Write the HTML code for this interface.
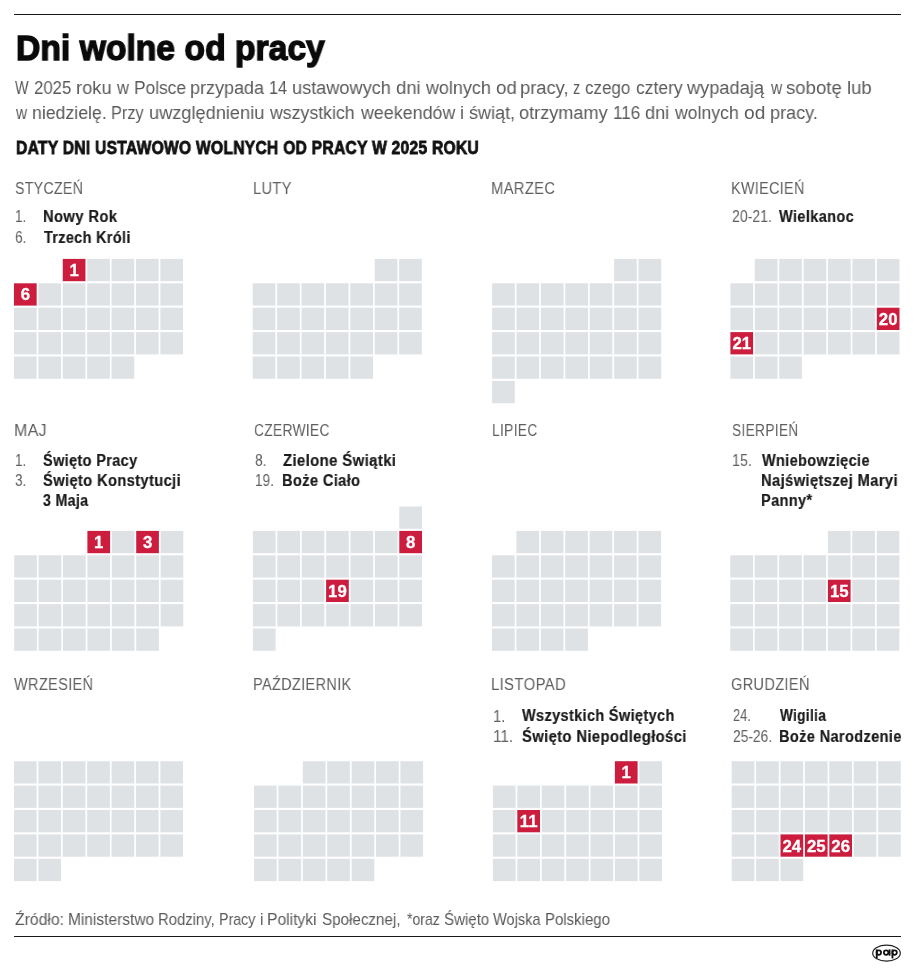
<!DOCTYPE html>
<html><head><meta charset="utf-8"><style>
html,body{margin:0;padding:0;background:#fff;}
body{width:915px;height:972px;position:relative;overflow:hidden;font-family:"Liberation Sans",sans-serif;}
.t{position:absolute;line-height:0;white-space:nowrap;transform-origin:0 0;will-change:transform;}
.n{font-family:"Liberation Sans",sans-serif;font-weight:700;font-size:16.8px;fill:#fff;stroke:#fff;stroke-width:0.3px;text-anchor:middle;}
.rule{position:absolute;left:14px;width:887px;background:#1a1a1a;}
</style></head><body>
<div class="rule" style="top:13.5px;height:1.8px"></div>
<div class="rule" style="top:935.5px;height:1.6px"></div>
<svg width="915" height="972" style="position:absolute;left:0;top:0;will-change:transform">
<rect x="62.76" y="258.90" width="22.7" height="22.3" fill="#cc1d3f"/>
<text x="74.11" y="276.05" class="n">1</text>
<rect x="87.16" y="258.90" width="22.7" height="22.3" fill="#dfe2e5"/>
<rect x="111.56" y="258.90" width="22.7" height="22.3" fill="#dfe2e5"/>
<rect x="135.96" y="258.90" width="22.7" height="22.3" fill="#dfe2e5"/>
<rect x="160.36" y="258.90" width="22.7" height="22.3" fill="#dfe2e5"/>
<rect x="13.96" y="283.30" width="22.7" height="22.3" fill="#cc1d3f"/>
<text x="25.31" y="300.45" class="n">6</text>
<rect x="38.36" y="283.30" width="22.7" height="22.3" fill="#dfe2e5"/>
<rect x="62.76" y="283.30" width="22.7" height="22.3" fill="#dfe2e5"/>
<rect x="87.16" y="283.30" width="22.7" height="22.3" fill="#dfe2e5"/>
<rect x="111.56" y="283.30" width="22.7" height="22.3" fill="#dfe2e5"/>
<rect x="135.96" y="283.30" width="22.7" height="22.3" fill="#dfe2e5"/>
<rect x="160.36" y="283.30" width="22.7" height="22.3" fill="#dfe2e5"/>
<rect x="13.96" y="307.70" width="22.7" height="22.3" fill="#dfe2e5"/>
<rect x="38.36" y="307.70" width="22.7" height="22.3" fill="#dfe2e5"/>
<rect x="62.76" y="307.70" width="22.7" height="22.3" fill="#dfe2e5"/>
<rect x="87.16" y="307.70" width="22.7" height="22.3" fill="#dfe2e5"/>
<rect x="111.56" y="307.70" width="22.7" height="22.3" fill="#dfe2e5"/>
<rect x="135.96" y="307.70" width="22.7" height="22.3" fill="#dfe2e5"/>
<rect x="160.36" y="307.70" width="22.7" height="22.3" fill="#dfe2e5"/>
<rect x="13.96" y="332.10" width="22.7" height="22.3" fill="#dfe2e5"/>
<rect x="38.36" y="332.10" width="22.7" height="22.3" fill="#dfe2e5"/>
<rect x="62.76" y="332.10" width="22.7" height="22.3" fill="#dfe2e5"/>
<rect x="87.16" y="332.10" width="22.7" height="22.3" fill="#dfe2e5"/>
<rect x="111.56" y="332.10" width="22.7" height="22.3" fill="#dfe2e5"/>
<rect x="135.96" y="332.10" width="22.7" height="22.3" fill="#dfe2e5"/>
<rect x="160.36" y="332.10" width="22.7" height="22.3" fill="#dfe2e5"/>
<rect x="13.96" y="356.50" width="22.7" height="22.3" fill="#dfe2e5"/>
<rect x="38.36" y="356.50" width="22.7" height="22.3" fill="#dfe2e5"/>
<rect x="62.76" y="356.50" width="22.7" height="22.3" fill="#dfe2e5"/>
<rect x="87.16" y="356.50" width="22.7" height="22.3" fill="#dfe2e5"/>
<rect x="111.56" y="356.50" width="22.7" height="22.3" fill="#dfe2e5"/>
<rect x="374.70" y="258.90" width="22.7" height="22.3" fill="#dfe2e5"/>
<rect x="399.10" y="258.90" width="22.7" height="22.3" fill="#dfe2e5"/>
<rect x="252.70" y="283.30" width="22.7" height="22.3" fill="#dfe2e5"/>
<rect x="277.10" y="283.30" width="22.7" height="22.3" fill="#dfe2e5"/>
<rect x="301.50" y="283.30" width="22.7" height="22.3" fill="#dfe2e5"/>
<rect x="325.90" y="283.30" width="22.7" height="22.3" fill="#dfe2e5"/>
<rect x="350.30" y="283.30" width="22.7" height="22.3" fill="#dfe2e5"/>
<rect x="374.70" y="283.30" width="22.7" height="22.3" fill="#dfe2e5"/>
<rect x="399.10" y="283.30" width="22.7" height="22.3" fill="#dfe2e5"/>
<rect x="252.70" y="307.70" width="22.7" height="22.3" fill="#dfe2e5"/>
<rect x="277.10" y="307.70" width="22.7" height="22.3" fill="#dfe2e5"/>
<rect x="301.50" y="307.70" width="22.7" height="22.3" fill="#dfe2e5"/>
<rect x="325.90" y="307.70" width="22.7" height="22.3" fill="#dfe2e5"/>
<rect x="350.30" y="307.70" width="22.7" height="22.3" fill="#dfe2e5"/>
<rect x="374.70" y="307.70" width="22.7" height="22.3" fill="#dfe2e5"/>
<rect x="399.10" y="307.70" width="22.7" height="22.3" fill="#dfe2e5"/>
<rect x="252.70" y="332.10" width="22.7" height="22.3" fill="#dfe2e5"/>
<rect x="277.10" y="332.10" width="22.7" height="22.3" fill="#dfe2e5"/>
<rect x="301.50" y="332.10" width="22.7" height="22.3" fill="#dfe2e5"/>
<rect x="325.90" y="332.10" width="22.7" height="22.3" fill="#dfe2e5"/>
<rect x="350.30" y="332.10" width="22.7" height="22.3" fill="#dfe2e5"/>
<rect x="374.70" y="332.10" width="22.7" height="22.3" fill="#dfe2e5"/>
<rect x="399.10" y="332.10" width="22.7" height="22.3" fill="#dfe2e5"/>
<rect x="252.70" y="356.50" width="22.7" height="22.3" fill="#dfe2e5"/>
<rect x="277.10" y="356.50" width="22.7" height="22.3" fill="#dfe2e5"/>
<rect x="301.50" y="356.50" width="22.7" height="22.3" fill="#dfe2e5"/>
<rect x="325.90" y="356.50" width="22.7" height="22.3" fill="#dfe2e5"/>
<rect x="350.30" y="356.50" width="22.7" height="22.3" fill="#dfe2e5"/>
<rect x="614.10" y="258.90" width="22.7" height="22.3" fill="#dfe2e5"/>
<rect x="638.50" y="258.90" width="22.7" height="22.3" fill="#dfe2e5"/>
<rect x="492.10" y="283.30" width="22.7" height="22.3" fill="#dfe2e5"/>
<rect x="516.50" y="283.30" width="22.7" height="22.3" fill="#dfe2e5"/>
<rect x="540.90" y="283.30" width="22.7" height="22.3" fill="#dfe2e5"/>
<rect x="565.30" y="283.30" width="22.7" height="22.3" fill="#dfe2e5"/>
<rect x="589.70" y="283.30" width="22.7" height="22.3" fill="#dfe2e5"/>
<rect x="614.10" y="283.30" width="22.7" height="22.3" fill="#dfe2e5"/>
<rect x="638.50" y="283.30" width="22.7" height="22.3" fill="#dfe2e5"/>
<rect x="492.10" y="307.70" width="22.7" height="22.3" fill="#dfe2e5"/>
<rect x="516.50" y="307.70" width="22.7" height="22.3" fill="#dfe2e5"/>
<rect x="540.90" y="307.70" width="22.7" height="22.3" fill="#dfe2e5"/>
<rect x="565.30" y="307.70" width="22.7" height="22.3" fill="#dfe2e5"/>
<rect x="589.70" y="307.70" width="22.7" height="22.3" fill="#dfe2e5"/>
<rect x="614.10" y="307.70" width="22.7" height="22.3" fill="#dfe2e5"/>
<rect x="638.50" y="307.70" width="22.7" height="22.3" fill="#dfe2e5"/>
<rect x="492.10" y="332.10" width="22.7" height="22.3" fill="#dfe2e5"/>
<rect x="516.50" y="332.10" width="22.7" height="22.3" fill="#dfe2e5"/>
<rect x="540.90" y="332.10" width="22.7" height="22.3" fill="#dfe2e5"/>
<rect x="565.30" y="332.10" width="22.7" height="22.3" fill="#dfe2e5"/>
<rect x="589.70" y="332.10" width="22.7" height="22.3" fill="#dfe2e5"/>
<rect x="614.10" y="332.10" width="22.7" height="22.3" fill="#dfe2e5"/>
<rect x="638.50" y="332.10" width="22.7" height="22.3" fill="#dfe2e5"/>
<rect x="492.10" y="356.50" width="22.7" height="22.3" fill="#dfe2e5"/>
<rect x="516.50" y="356.50" width="22.7" height="22.3" fill="#dfe2e5"/>
<rect x="540.90" y="356.50" width="22.7" height="22.3" fill="#dfe2e5"/>
<rect x="565.30" y="356.50" width="22.7" height="22.3" fill="#dfe2e5"/>
<rect x="589.70" y="356.50" width="22.7" height="22.3" fill="#dfe2e5"/>
<rect x="614.10" y="356.50" width="22.7" height="22.3" fill="#dfe2e5"/>
<rect x="638.50" y="356.50" width="22.7" height="22.3" fill="#dfe2e5"/>
<rect x="492.10" y="380.90" width="22.7" height="22.3" fill="#dfe2e5"/>
<rect x="754.80" y="258.90" width="22.7" height="22.3" fill="#dfe2e5"/>
<rect x="779.20" y="258.90" width="22.7" height="22.3" fill="#dfe2e5"/>
<rect x="803.60" y="258.90" width="22.7" height="22.3" fill="#dfe2e5"/>
<rect x="828.00" y="258.90" width="22.7" height="22.3" fill="#dfe2e5"/>
<rect x="852.40" y="258.90" width="22.7" height="22.3" fill="#dfe2e5"/>
<rect x="876.80" y="258.90" width="22.7" height="22.3" fill="#dfe2e5"/>
<rect x="730.40" y="283.30" width="22.7" height="22.3" fill="#dfe2e5"/>
<rect x="754.80" y="283.30" width="22.7" height="22.3" fill="#dfe2e5"/>
<rect x="779.20" y="283.30" width="22.7" height="22.3" fill="#dfe2e5"/>
<rect x="803.60" y="283.30" width="22.7" height="22.3" fill="#dfe2e5"/>
<rect x="828.00" y="283.30" width="22.7" height="22.3" fill="#dfe2e5"/>
<rect x="852.40" y="283.30" width="22.7" height="22.3" fill="#dfe2e5"/>
<rect x="876.80" y="283.30" width="22.7" height="22.3" fill="#dfe2e5"/>
<rect x="730.40" y="307.70" width="22.7" height="22.3" fill="#dfe2e5"/>
<rect x="754.80" y="307.70" width="22.7" height="22.3" fill="#dfe2e5"/>
<rect x="779.20" y="307.70" width="22.7" height="22.3" fill="#dfe2e5"/>
<rect x="803.60" y="307.70" width="22.7" height="22.3" fill="#dfe2e5"/>
<rect x="828.00" y="307.70" width="22.7" height="22.3" fill="#dfe2e5"/>
<rect x="852.40" y="307.70" width="22.7" height="22.3" fill="#dfe2e5"/>
<rect x="876.80" y="307.70" width="22.7" height="22.3" fill="#cc1d3f"/>
<text x="888.15" y="324.85" class="n">20</text>
<rect x="730.40" y="332.10" width="22.7" height="22.3" fill="#cc1d3f"/>
<text x="741.75" y="349.25" class="n">21</text>
<rect x="754.80" y="332.10" width="22.7" height="22.3" fill="#dfe2e5"/>
<rect x="779.20" y="332.10" width="22.7" height="22.3" fill="#dfe2e5"/>
<rect x="803.60" y="332.10" width="22.7" height="22.3" fill="#dfe2e5"/>
<rect x="828.00" y="332.10" width="22.7" height="22.3" fill="#dfe2e5"/>
<rect x="852.40" y="332.10" width="22.7" height="22.3" fill="#dfe2e5"/>
<rect x="876.80" y="332.10" width="22.7" height="22.3" fill="#dfe2e5"/>
<rect x="730.40" y="356.50" width="22.7" height="22.3" fill="#dfe2e5"/>
<rect x="754.80" y="356.50" width="22.7" height="22.3" fill="#dfe2e5"/>
<rect x="779.20" y="356.50" width="22.7" height="22.3" fill="#dfe2e5"/>
<rect x="87.40" y="530.90" width="22.7" height="22.3" fill="#cc1d3f"/>
<text x="98.75" y="548.05" class="n">1</text>
<rect x="111.80" y="530.90" width="22.7" height="22.3" fill="#dfe2e5"/>
<rect x="136.20" y="530.90" width="22.7" height="22.3" fill="#cc1d3f"/>
<text x="147.55" y="548.05" class="n">3</text>
<rect x="160.60" y="530.90" width="22.7" height="22.3" fill="#dfe2e5"/>
<rect x="14.20" y="555.30" width="22.7" height="22.3" fill="#dfe2e5"/>
<rect x="38.60" y="555.30" width="22.7" height="22.3" fill="#dfe2e5"/>
<rect x="63.00" y="555.30" width="22.7" height="22.3" fill="#dfe2e5"/>
<rect x="87.40" y="555.30" width="22.7" height="22.3" fill="#dfe2e5"/>
<rect x="111.80" y="555.30" width="22.7" height="22.3" fill="#dfe2e5"/>
<rect x="136.20" y="555.30" width="22.7" height="22.3" fill="#dfe2e5"/>
<rect x="160.60" y="555.30" width="22.7" height="22.3" fill="#dfe2e5"/>
<rect x="14.20" y="579.70" width="22.7" height="22.3" fill="#dfe2e5"/>
<rect x="38.60" y="579.70" width="22.7" height="22.3" fill="#dfe2e5"/>
<rect x="63.00" y="579.70" width="22.7" height="22.3" fill="#dfe2e5"/>
<rect x="87.40" y="579.70" width="22.7" height="22.3" fill="#dfe2e5"/>
<rect x="111.80" y="579.70" width="22.7" height="22.3" fill="#dfe2e5"/>
<rect x="136.20" y="579.70" width="22.7" height="22.3" fill="#dfe2e5"/>
<rect x="160.60" y="579.70" width="22.7" height="22.3" fill="#dfe2e5"/>
<rect x="14.20" y="604.10" width="22.7" height="22.3" fill="#dfe2e5"/>
<rect x="38.60" y="604.10" width="22.7" height="22.3" fill="#dfe2e5"/>
<rect x="63.00" y="604.10" width="22.7" height="22.3" fill="#dfe2e5"/>
<rect x="87.40" y="604.10" width="22.7" height="22.3" fill="#dfe2e5"/>
<rect x="111.80" y="604.10" width="22.7" height="22.3" fill="#dfe2e5"/>
<rect x="136.20" y="604.10" width="22.7" height="22.3" fill="#dfe2e5"/>
<rect x="160.60" y="604.10" width="22.7" height="22.3" fill="#dfe2e5"/>
<rect x="14.20" y="628.50" width="22.7" height="22.3" fill="#dfe2e5"/>
<rect x="38.60" y="628.50" width="22.7" height="22.3" fill="#dfe2e5"/>
<rect x="63.00" y="628.50" width="22.7" height="22.3" fill="#dfe2e5"/>
<rect x="87.40" y="628.50" width="22.7" height="22.3" fill="#dfe2e5"/>
<rect x="111.80" y="628.50" width="22.7" height="22.3" fill="#dfe2e5"/>
<rect x="136.20" y="628.50" width="22.7" height="22.3" fill="#dfe2e5"/>
<rect x="399.30" y="506.50" width="22.7" height="22.3" fill="#dfe2e5"/>
<rect x="252.90" y="530.90" width="22.7" height="22.3" fill="#dfe2e5"/>
<rect x="277.30" y="530.90" width="22.7" height="22.3" fill="#dfe2e5"/>
<rect x="301.70" y="530.90" width="22.7" height="22.3" fill="#dfe2e5"/>
<rect x="326.10" y="530.90" width="22.7" height="22.3" fill="#dfe2e5"/>
<rect x="350.50" y="530.90" width="22.7" height="22.3" fill="#dfe2e5"/>
<rect x="374.90" y="530.90" width="22.7" height="22.3" fill="#dfe2e5"/>
<rect x="399.30" y="530.90" width="22.7" height="22.3" fill="#cc1d3f"/>
<text x="410.65" y="548.05" class="n">8</text>
<rect x="252.90" y="555.30" width="22.7" height="22.3" fill="#dfe2e5"/>
<rect x="277.30" y="555.30" width="22.7" height="22.3" fill="#dfe2e5"/>
<rect x="301.70" y="555.30" width="22.7" height="22.3" fill="#dfe2e5"/>
<rect x="326.10" y="555.30" width="22.7" height="22.3" fill="#dfe2e5"/>
<rect x="350.50" y="555.30" width="22.7" height="22.3" fill="#dfe2e5"/>
<rect x="374.90" y="555.30" width="22.7" height="22.3" fill="#dfe2e5"/>
<rect x="399.30" y="555.30" width="22.7" height="22.3" fill="#dfe2e5"/>
<rect x="252.90" y="579.70" width="22.7" height="22.3" fill="#dfe2e5"/>
<rect x="277.30" y="579.70" width="22.7" height="22.3" fill="#dfe2e5"/>
<rect x="301.70" y="579.70" width="22.7" height="22.3" fill="#dfe2e5"/>
<rect x="326.10" y="579.70" width="22.7" height="22.3" fill="#cc1d3f"/>
<text x="337.45" y="596.85" class="n">19</text>
<rect x="350.50" y="579.70" width="22.7" height="22.3" fill="#dfe2e5"/>
<rect x="374.90" y="579.70" width="22.7" height="22.3" fill="#dfe2e5"/>
<rect x="399.30" y="579.70" width="22.7" height="22.3" fill="#dfe2e5"/>
<rect x="252.90" y="604.10" width="22.7" height="22.3" fill="#dfe2e5"/>
<rect x="277.30" y="604.10" width="22.7" height="22.3" fill="#dfe2e5"/>
<rect x="301.70" y="604.10" width="22.7" height="22.3" fill="#dfe2e5"/>
<rect x="326.10" y="604.10" width="22.7" height="22.3" fill="#dfe2e5"/>
<rect x="350.50" y="604.10" width="22.7" height="22.3" fill="#dfe2e5"/>
<rect x="374.90" y="604.10" width="22.7" height="22.3" fill="#dfe2e5"/>
<rect x="399.30" y="604.10" width="22.7" height="22.3" fill="#dfe2e5"/>
<rect x="252.90" y="628.50" width="22.7" height="22.3" fill="#dfe2e5"/>
<rect x="516.40" y="530.90" width="22.7" height="22.3" fill="#dfe2e5"/>
<rect x="540.80" y="530.90" width="22.7" height="22.3" fill="#dfe2e5"/>
<rect x="565.20" y="530.90" width="22.7" height="22.3" fill="#dfe2e5"/>
<rect x="589.60" y="530.90" width="22.7" height="22.3" fill="#dfe2e5"/>
<rect x="614.00" y="530.90" width="22.7" height="22.3" fill="#dfe2e5"/>
<rect x="638.40" y="530.90" width="22.7" height="22.3" fill="#dfe2e5"/>
<rect x="492.00" y="555.30" width="22.7" height="22.3" fill="#dfe2e5"/>
<rect x="516.40" y="555.30" width="22.7" height="22.3" fill="#dfe2e5"/>
<rect x="540.80" y="555.30" width="22.7" height="22.3" fill="#dfe2e5"/>
<rect x="565.20" y="555.30" width="22.7" height="22.3" fill="#dfe2e5"/>
<rect x="589.60" y="555.30" width="22.7" height="22.3" fill="#dfe2e5"/>
<rect x="614.00" y="555.30" width="22.7" height="22.3" fill="#dfe2e5"/>
<rect x="638.40" y="555.30" width="22.7" height="22.3" fill="#dfe2e5"/>
<rect x="492.00" y="579.70" width="22.7" height="22.3" fill="#dfe2e5"/>
<rect x="516.40" y="579.70" width="22.7" height="22.3" fill="#dfe2e5"/>
<rect x="540.80" y="579.70" width="22.7" height="22.3" fill="#dfe2e5"/>
<rect x="565.20" y="579.70" width="22.7" height="22.3" fill="#dfe2e5"/>
<rect x="589.60" y="579.70" width="22.7" height="22.3" fill="#dfe2e5"/>
<rect x="614.00" y="579.70" width="22.7" height="22.3" fill="#dfe2e5"/>
<rect x="638.40" y="579.70" width="22.7" height="22.3" fill="#dfe2e5"/>
<rect x="492.00" y="604.10" width="22.7" height="22.3" fill="#dfe2e5"/>
<rect x="516.40" y="604.10" width="22.7" height="22.3" fill="#dfe2e5"/>
<rect x="540.80" y="604.10" width="22.7" height="22.3" fill="#dfe2e5"/>
<rect x="565.20" y="604.10" width="22.7" height="22.3" fill="#dfe2e5"/>
<rect x="589.60" y="604.10" width="22.7" height="22.3" fill="#dfe2e5"/>
<rect x="614.00" y="604.10" width="22.7" height="22.3" fill="#dfe2e5"/>
<rect x="638.40" y="604.10" width="22.7" height="22.3" fill="#dfe2e5"/>
<rect x="492.00" y="628.50" width="22.7" height="22.3" fill="#dfe2e5"/>
<rect x="516.40" y="628.50" width="22.7" height="22.3" fill="#dfe2e5"/>
<rect x="540.80" y="628.50" width="22.7" height="22.3" fill="#dfe2e5"/>
<rect x="565.20" y="628.50" width="22.7" height="22.3" fill="#dfe2e5"/>
<rect x="827.90" y="530.90" width="22.7" height="22.3" fill="#dfe2e5"/>
<rect x="852.30" y="530.90" width="22.7" height="22.3" fill="#dfe2e5"/>
<rect x="876.70" y="530.90" width="22.7" height="22.3" fill="#dfe2e5"/>
<rect x="730.30" y="555.30" width="22.7" height="22.3" fill="#dfe2e5"/>
<rect x="754.70" y="555.30" width="22.7" height="22.3" fill="#dfe2e5"/>
<rect x="779.10" y="555.30" width="22.7" height="22.3" fill="#dfe2e5"/>
<rect x="803.50" y="555.30" width="22.7" height="22.3" fill="#dfe2e5"/>
<rect x="827.90" y="555.30" width="22.7" height="22.3" fill="#dfe2e5"/>
<rect x="852.30" y="555.30" width="22.7" height="22.3" fill="#dfe2e5"/>
<rect x="876.70" y="555.30" width="22.7" height="22.3" fill="#dfe2e5"/>
<rect x="730.30" y="579.70" width="22.7" height="22.3" fill="#dfe2e5"/>
<rect x="754.70" y="579.70" width="22.7" height="22.3" fill="#dfe2e5"/>
<rect x="779.10" y="579.70" width="22.7" height="22.3" fill="#dfe2e5"/>
<rect x="803.50" y="579.70" width="22.7" height="22.3" fill="#dfe2e5"/>
<rect x="827.90" y="579.70" width="22.7" height="22.3" fill="#cc1d3f"/>
<text x="839.25" y="596.85" class="n">15</text>
<rect x="852.30" y="579.70" width="22.7" height="22.3" fill="#dfe2e5"/>
<rect x="876.70" y="579.70" width="22.7" height="22.3" fill="#dfe2e5"/>
<rect x="730.30" y="604.10" width="22.7" height="22.3" fill="#dfe2e5"/>
<rect x="754.70" y="604.10" width="22.7" height="22.3" fill="#dfe2e5"/>
<rect x="779.10" y="604.10" width="22.7" height="22.3" fill="#dfe2e5"/>
<rect x="803.50" y="604.10" width="22.7" height="22.3" fill="#dfe2e5"/>
<rect x="827.90" y="604.10" width="22.7" height="22.3" fill="#dfe2e5"/>
<rect x="852.30" y="604.10" width="22.7" height="22.3" fill="#dfe2e5"/>
<rect x="876.70" y="604.10" width="22.7" height="22.3" fill="#dfe2e5"/>
<rect x="730.30" y="628.50" width="22.7" height="22.3" fill="#dfe2e5"/>
<rect x="754.70" y="628.50" width="22.7" height="22.3" fill="#dfe2e5"/>
<rect x="779.10" y="628.50" width="22.7" height="22.3" fill="#dfe2e5"/>
<rect x="803.50" y="628.50" width="22.7" height="22.3" fill="#dfe2e5"/>
<rect x="827.90" y="628.50" width="22.7" height="22.3" fill="#dfe2e5"/>
<rect x="852.30" y="628.50" width="22.7" height="22.3" fill="#dfe2e5"/>
<rect x="876.70" y="628.50" width="22.7" height="22.3" fill="#dfe2e5"/>
<rect x="13.96" y="761.20" width="22.7" height="22.3" fill="#dfe2e5"/>
<rect x="38.36" y="761.20" width="22.7" height="22.3" fill="#dfe2e5"/>
<rect x="62.76" y="761.20" width="22.7" height="22.3" fill="#dfe2e5"/>
<rect x="87.16" y="761.20" width="22.7" height="22.3" fill="#dfe2e5"/>
<rect x="111.56" y="761.20" width="22.7" height="22.3" fill="#dfe2e5"/>
<rect x="135.96" y="761.20" width="22.7" height="22.3" fill="#dfe2e5"/>
<rect x="160.36" y="761.20" width="22.7" height="22.3" fill="#dfe2e5"/>
<rect x="13.96" y="785.60" width="22.7" height="22.3" fill="#dfe2e5"/>
<rect x="38.36" y="785.60" width="22.7" height="22.3" fill="#dfe2e5"/>
<rect x="62.76" y="785.60" width="22.7" height="22.3" fill="#dfe2e5"/>
<rect x="87.16" y="785.60" width="22.7" height="22.3" fill="#dfe2e5"/>
<rect x="111.56" y="785.60" width="22.7" height="22.3" fill="#dfe2e5"/>
<rect x="135.96" y="785.60" width="22.7" height="22.3" fill="#dfe2e5"/>
<rect x="160.36" y="785.60" width="22.7" height="22.3" fill="#dfe2e5"/>
<rect x="13.96" y="810.00" width="22.7" height="22.3" fill="#dfe2e5"/>
<rect x="38.36" y="810.00" width="22.7" height="22.3" fill="#dfe2e5"/>
<rect x="62.76" y="810.00" width="22.7" height="22.3" fill="#dfe2e5"/>
<rect x="87.16" y="810.00" width="22.7" height="22.3" fill="#dfe2e5"/>
<rect x="111.56" y="810.00" width="22.7" height="22.3" fill="#dfe2e5"/>
<rect x="135.96" y="810.00" width="22.7" height="22.3" fill="#dfe2e5"/>
<rect x="160.36" y="810.00" width="22.7" height="22.3" fill="#dfe2e5"/>
<rect x="13.96" y="834.40" width="22.7" height="22.3" fill="#dfe2e5"/>
<rect x="38.36" y="834.40" width="22.7" height="22.3" fill="#dfe2e5"/>
<rect x="62.76" y="834.40" width="22.7" height="22.3" fill="#dfe2e5"/>
<rect x="87.16" y="834.40" width="22.7" height="22.3" fill="#dfe2e5"/>
<rect x="111.56" y="834.40" width="22.7" height="22.3" fill="#dfe2e5"/>
<rect x="135.96" y="834.40" width="22.7" height="22.3" fill="#dfe2e5"/>
<rect x="160.36" y="834.40" width="22.7" height="22.3" fill="#dfe2e5"/>
<rect x="13.96" y="858.80" width="22.7" height="22.3" fill="#dfe2e5"/>
<rect x="38.36" y="858.80" width="22.7" height="22.3" fill="#dfe2e5"/>
<rect x="302.80" y="761.20" width="22.7" height="22.3" fill="#dfe2e5"/>
<rect x="327.20" y="761.20" width="22.7" height="22.3" fill="#dfe2e5"/>
<rect x="351.60" y="761.20" width="22.7" height="22.3" fill="#dfe2e5"/>
<rect x="376.00" y="761.20" width="22.7" height="22.3" fill="#dfe2e5"/>
<rect x="400.40" y="761.20" width="22.7" height="22.3" fill="#dfe2e5"/>
<rect x="254.00" y="785.60" width="22.7" height="22.3" fill="#dfe2e5"/>
<rect x="278.40" y="785.60" width="22.7" height="22.3" fill="#dfe2e5"/>
<rect x="302.80" y="785.60" width="22.7" height="22.3" fill="#dfe2e5"/>
<rect x="327.20" y="785.60" width="22.7" height="22.3" fill="#dfe2e5"/>
<rect x="351.60" y="785.60" width="22.7" height="22.3" fill="#dfe2e5"/>
<rect x="376.00" y="785.60" width="22.7" height="22.3" fill="#dfe2e5"/>
<rect x="400.40" y="785.60" width="22.7" height="22.3" fill="#dfe2e5"/>
<rect x="254.00" y="810.00" width="22.7" height="22.3" fill="#dfe2e5"/>
<rect x="278.40" y="810.00" width="22.7" height="22.3" fill="#dfe2e5"/>
<rect x="302.80" y="810.00" width="22.7" height="22.3" fill="#dfe2e5"/>
<rect x="327.20" y="810.00" width="22.7" height="22.3" fill="#dfe2e5"/>
<rect x="351.60" y="810.00" width="22.7" height="22.3" fill="#dfe2e5"/>
<rect x="376.00" y="810.00" width="22.7" height="22.3" fill="#dfe2e5"/>
<rect x="400.40" y="810.00" width="22.7" height="22.3" fill="#dfe2e5"/>
<rect x="254.00" y="834.40" width="22.7" height="22.3" fill="#dfe2e5"/>
<rect x="278.40" y="834.40" width="22.7" height="22.3" fill="#dfe2e5"/>
<rect x="302.80" y="834.40" width="22.7" height="22.3" fill="#dfe2e5"/>
<rect x="327.20" y="834.40" width="22.7" height="22.3" fill="#dfe2e5"/>
<rect x="351.60" y="834.40" width="22.7" height="22.3" fill="#dfe2e5"/>
<rect x="376.00" y="834.40" width="22.7" height="22.3" fill="#dfe2e5"/>
<rect x="400.40" y="834.40" width="22.7" height="22.3" fill="#dfe2e5"/>
<rect x="254.00" y="858.80" width="22.7" height="22.3" fill="#dfe2e5"/>
<rect x="278.40" y="858.80" width="22.7" height="22.3" fill="#dfe2e5"/>
<rect x="302.80" y="858.80" width="22.7" height="22.3" fill="#dfe2e5"/>
<rect x="327.20" y="858.80" width="22.7" height="22.3" fill="#dfe2e5"/>
<rect x="351.60" y="858.80" width="22.7" height="22.3" fill="#dfe2e5"/>
<rect x="614.90" y="761.20" width="22.7" height="22.3" fill="#cc1d3f"/>
<text x="626.25" y="778.35" class="n">1</text>
<rect x="639.30" y="761.20" width="22.7" height="22.3" fill="#dfe2e5"/>
<rect x="492.90" y="785.60" width="22.7" height="22.3" fill="#dfe2e5"/>
<rect x="517.30" y="785.60" width="22.7" height="22.3" fill="#dfe2e5"/>
<rect x="541.70" y="785.60" width="22.7" height="22.3" fill="#dfe2e5"/>
<rect x="566.10" y="785.60" width="22.7" height="22.3" fill="#dfe2e5"/>
<rect x="590.50" y="785.60" width="22.7" height="22.3" fill="#dfe2e5"/>
<rect x="614.90" y="785.60" width="22.7" height="22.3" fill="#dfe2e5"/>
<rect x="639.30" y="785.60" width="22.7" height="22.3" fill="#dfe2e5"/>
<rect x="492.90" y="810.00" width="22.7" height="22.3" fill="#dfe2e5"/>
<rect x="517.30" y="810.00" width="22.7" height="22.3" fill="#cc1d3f"/>
<text x="528.65" y="827.15" class="n">11</text>
<rect x="541.70" y="810.00" width="22.7" height="22.3" fill="#dfe2e5"/>
<rect x="566.10" y="810.00" width="22.7" height="22.3" fill="#dfe2e5"/>
<rect x="590.50" y="810.00" width="22.7" height="22.3" fill="#dfe2e5"/>
<rect x="614.90" y="810.00" width="22.7" height="22.3" fill="#dfe2e5"/>
<rect x="639.30" y="810.00" width="22.7" height="22.3" fill="#dfe2e5"/>
<rect x="492.90" y="834.40" width="22.7" height="22.3" fill="#dfe2e5"/>
<rect x="517.30" y="834.40" width="22.7" height="22.3" fill="#dfe2e5"/>
<rect x="541.70" y="834.40" width="22.7" height="22.3" fill="#dfe2e5"/>
<rect x="566.10" y="834.40" width="22.7" height="22.3" fill="#dfe2e5"/>
<rect x="590.50" y="834.40" width="22.7" height="22.3" fill="#dfe2e5"/>
<rect x="614.90" y="834.40" width="22.7" height="22.3" fill="#dfe2e5"/>
<rect x="639.30" y="834.40" width="22.7" height="22.3" fill="#dfe2e5"/>
<rect x="492.90" y="858.80" width="22.7" height="22.3" fill="#dfe2e5"/>
<rect x="517.30" y="858.80" width="22.7" height="22.3" fill="#dfe2e5"/>
<rect x="541.70" y="858.80" width="22.7" height="22.3" fill="#dfe2e5"/>
<rect x="566.10" y="858.80" width="22.7" height="22.3" fill="#dfe2e5"/>
<rect x="590.50" y="858.80" width="22.7" height="22.3" fill="#dfe2e5"/>
<rect x="614.90" y="858.80" width="22.7" height="22.3" fill="#dfe2e5"/>
<rect x="639.30" y="858.80" width="22.7" height="22.3" fill="#dfe2e5"/>
<rect x="731.70" y="761.20" width="22.7" height="22.3" fill="#dfe2e5"/>
<rect x="756.10" y="761.20" width="22.7" height="22.3" fill="#dfe2e5"/>
<rect x="780.50" y="761.20" width="22.7" height="22.3" fill="#dfe2e5"/>
<rect x="804.90" y="761.20" width="22.7" height="22.3" fill="#dfe2e5"/>
<rect x="829.30" y="761.20" width="22.7" height="22.3" fill="#dfe2e5"/>
<rect x="853.70" y="761.20" width="22.7" height="22.3" fill="#dfe2e5"/>
<rect x="878.10" y="761.20" width="22.7" height="22.3" fill="#dfe2e5"/>
<rect x="731.70" y="785.60" width="22.7" height="22.3" fill="#dfe2e5"/>
<rect x="756.10" y="785.60" width="22.7" height="22.3" fill="#dfe2e5"/>
<rect x="780.50" y="785.60" width="22.7" height="22.3" fill="#dfe2e5"/>
<rect x="804.90" y="785.60" width="22.7" height="22.3" fill="#dfe2e5"/>
<rect x="829.30" y="785.60" width="22.7" height="22.3" fill="#dfe2e5"/>
<rect x="853.70" y="785.60" width="22.7" height="22.3" fill="#dfe2e5"/>
<rect x="878.10" y="785.60" width="22.7" height="22.3" fill="#dfe2e5"/>
<rect x="731.70" y="810.00" width="22.7" height="22.3" fill="#dfe2e5"/>
<rect x="756.10" y="810.00" width="22.7" height="22.3" fill="#dfe2e5"/>
<rect x="780.50" y="810.00" width="22.7" height="22.3" fill="#dfe2e5"/>
<rect x="804.90" y="810.00" width="22.7" height="22.3" fill="#dfe2e5"/>
<rect x="829.30" y="810.00" width="22.7" height="22.3" fill="#dfe2e5"/>
<rect x="853.70" y="810.00" width="22.7" height="22.3" fill="#dfe2e5"/>
<rect x="878.10" y="810.00" width="22.7" height="22.3" fill="#dfe2e5"/>
<rect x="731.70" y="834.40" width="22.7" height="22.3" fill="#dfe2e5"/>
<rect x="756.10" y="834.40" width="22.7" height="22.3" fill="#dfe2e5"/>
<rect x="780.50" y="834.40" width="22.7" height="22.3" fill="#cc1d3f"/>
<text x="791.85" y="851.55" class="n">24</text>
<rect x="804.90" y="834.40" width="22.7" height="22.3" fill="#cc1d3f"/>
<text x="816.25" y="851.55" class="n">25</text>
<rect x="829.30" y="834.40" width="22.7" height="22.3" fill="#cc1d3f"/>
<text x="840.65" y="851.55" class="n">26</text>
<rect x="853.70" y="834.40" width="22.7" height="22.3" fill="#dfe2e5"/>
<rect x="878.10" y="834.40" width="22.7" height="22.3" fill="#dfe2e5"/>
<rect x="731.70" y="858.80" width="22.7" height="22.3" fill="#dfe2e5"/>
<rect x="756.10" y="858.80" width="22.7" height="22.3" fill="#dfe2e5"/>
<rect x="780.50" y="858.80" width="22.7" height="22.3" fill="#dfe2e5"/>
<ellipse cx="886.5" cy="953.15" rx="13.8" ry="7.95" fill="none" stroke="#222" stroke-width="1.2"/>
<g fill="none" stroke="#111" stroke-width="1.75">
<circle cx="878.85" cy="952.55" r="2.25"/>
<circle cx="886.1" cy="952.55" r="2.25"/>
<circle cx="894.6" cy="952.55" r="2.25"/>
</g>
<g fill="#111">
<rect x="875.8" y="949.4" width="1.9" height="9.0"/>
<rect x="888.6" y="949.4" width="1.9" height="6.3"/>
<rect x="891.5" y="949.4" width="1.9" height="9.0"/>
</g>
</svg>
<div class="t" style="left:15.99px;top:48.10px;font-size:35.32px;font-weight:700;color:#0a0a0a;letter-spacing:0.0px;transform:scaleX(0.9540);-webkit-text-stroke:1.4px #0a0a0a">Dni wolne od pracy</div>
<div class="t" style="left:16.10px;top:148.20px;font-size:17.44px;font-weight:700;color:#111111;letter-spacing:0.3px;transform:scaleX(0.8952);-webkit-text-stroke:0.8px #111111">DATY DNI USTAWOWO WOLNYCH OD PRACY W 2025 ROKU</div>
<div class="t" style="left:15.10px;top:188.80px;font-size:16.86px;font-weight:400;color:#5e5e5e;letter-spacing:0.4px;transform:scaleX(0.8372)">STYCZEŃ</div>
<div class="t" style="left:252.93px;top:188.80px;font-size:16.86px;font-weight:400;color:#5e5e5e;letter-spacing:0.4px;transform:scaleX(0.8688)">LUTY</div>
<div class="t" style="left:491.13px;top:188.80px;font-size:16.86px;font-weight:400;color:#5e5e5e;letter-spacing:0.4px;transform:scaleX(0.8749)">MARZEC</div>
<div class="t" style="left:730.65px;top:188.80px;font-size:16.86px;font-weight:400;color:#5e5e5e;letter-spacing:0.4px;transform:scaleX(0.8513)">KWIECIEŃ</div>
<div class="t" style="left:14.05px;top:430.50px;font-size:16.86px;font-weight:400;color:#5e5e5e;letter-spacing:0.4px;transform:scaleX(0.9459)">MAJ</div>
<div class="t" style="left:254.00px;top:430.50px;font-size:16.86px;font-weight:400;color:#5e5e5e;letter-spacing:0.4px;transform:scaleX(0.8164)">CZERWIEC</div>
<div class="t" style="left:492.18px;top:430.50px;font-size:16.86px;font-weight:400;color:#5e5e5e;letter-spacing:0.4px;transform:scaleX(0.8168)">LIPIEC</div>
<div class="t" style="left:731.50px;top:430.50px;font-size:16.86px;font-weight:400;color:#5e5e5e;letter-spacing:0.4px;transform:scaleX(0.8130)">SIERPIEŃ</div>
<div class="t" style="left:14.00px;top:684.90px;font-size:16.86px;font-weight:400;color:#5e5e5e;letter-spacing:0.4px;transform:scaleX(0.8609)">WRZESIEŃ</div>
<div class="t" style="left:253.14px;top:684.90px;font-size:16.86px;font-weight:400;color:#5e5e5e;letter-spacing:0.4px;transform:scaleX(0.8598)">PAŹDZIERNIK</div>
<div class="t" style="left:491.02px;top:684.90px;font-size:16.86px;font-weight:400;color:#5e5e5e;letter-spacing:0.4px;transform:scaleX(0.8831)">LISTOPAD</div>
<div class="t" style="left:730.60px;top:684.90px;font-size:16.86px;font-weight:400;color:#5e5e5e;letter-spacing:0.4px;transform:scaleX(0.8632)">GRUDZIEŃ</div>
<div class="t" style="left:42.58px;top:215.80px;font-size:16.13px;font-weight:700;color:#1a1a1a;letter-spacing:0.4px;transform:scaleX(0.9170);-webkit-text-stroke:0.2px #1a1a1a">Nowy Rok</div>
<div class="t" style="left:43.50px;top:236.50px;font-size:16.13px;font-weight:700;color:#1a1a1a;letter-spacing:0.4px;transform:scaleX(0.8936);-webkit-text-stroke:0.2px #1a1a1a">Trzech Króli</div>
<div class="t" style="left:779.40px;top:215.80px;font-size:16.13px;font-weight:700;color:#1a1a1a;letter-spacing:0.4px;transform:scaleX(0.9037);-webkit-text-stroke:0.2px #1a1a1a">Wielkanoc</div>
<div class="t" style="left:43.40px;top:459.90px;font-size:16.13px;font-weight:700;color:#1a1a1a;letter-spacing:0.4px;transform:scaleX(0.8995);-webkit-text-stroke:0.2px #1a1a1a">Święto Pracy</div>
<div class="t" style="left:43.40px;top:480.10px;font-size:16.13px;font-weight:700;color:#1a1a1a;letter-spacing:0.4px;transform:scaleX(0.9121);-webkit-text-stroke:0.2px #1a1a1a">Święto Konstytucji</div>
<div class="t" style="left:43.40px;top:500.40px;font-size:16.13px;font-weight:700;color:#1a1a1a;letter-spacing:0.4px;transform:scaleX(0.8797);-webkit-text-stroke:0.2px #1a1a1a">3 Maja</div>
<div class="t" style="left:283.10px;top:459.90px;font-size:16.13px;font-weight:700;color:#1a1a1a;letter-spacing:0.4px;transform:scaleX(0.9259);-webkit-text-stroke:0.2px #1a1a1a">Zielone Świątki</div>
<div class="t" style="left:282.19px;top:480.10px;font-size:16.13px;font-weight:700;color:#1a1a1a;letter-spacing:0.4px;transform:scaleX(0.9083);-webkit-text-stroke:0.2px #1a1a1a">Boże Ciało</div>
<div class="t" style="left:761.70px;top:459.90px;font-size:16.13px;font-weight:700;color:#1a1a1a;letter-spacing:0.4px;transform:scaleX(0.9002);-webkit-text-stroke:0.2px #1a1a1a">Wniebowzięcie</div>
<div class="t" style="left:760.78px;top:480.10px;font-size:16.13px;font-weight:700;color:#1a1a1a;letter-spacing:0.4px;transform:scaleX(0.9154);-webkit-text-stroke:0.2px #1a1a1a">Najświętszej Maryi</div>
<div class="t" style="left:760.80px;top:500.40px;font-size:16.13px;font-weight:700;color:#1a1a1a;letter-spacing:0.4px;transform:scaleX(0.9034);-webkit-text-stroke:0.2px #1a1a1a">Panny*</div>
<div class="t" style="left:521.90px;top:715.30px;font-size:16.13px;font-weight:700;color:#1a1a1a;letter-spacing:0.4px;transform:scaleX(0.8996);-webkit-text-stroke:0.2px #1a1a1a">Wszystkich Świętych</div>
<div class="t" style="left:521.90px;top:736.00px;font-size:16.13px;font-weight:700;color:#1a1a1a;letter-spacing:0.4px;transform:scaleX(0.9183);-webkit-text-stroke:0.2px #1a1a1a">Święto Niepodległości</div>
<div class="t" style="left:779.50px;top:715.30px;font-size:16.13px;font-weight:700;color:#1a1a1a;letter-spacing:0.4px;transform:scaleX(0.8459);-webkit-text-stroke:0.2px #1a1a1a">Wigilia</div>
<div class="t" style="left:778.60px;top:736.00px;font-size:16.13px;font-weight:700;color:#1a1a1a;letter-spacing:0.4px;transform:scaleX(0.9038);-webkit-text-stroke:0.2px #1a1a1a">Boże Narodzenie</div>
<div class="t" style="left:14.96px;top:215.90px;font-size:16.13px;font-weight:400;color:#606060;letter-spacing:0.0px;transform:scaleX(0.8440)">1.</div>
<div class="t" style="left:14.90px;top:236.50px;font-size:16.13px;font-weight:400;color:#606060;letter-spacing:0.0px;transform:scaleX(0.8487)">6.</div>
<div class="t" style="left:732.30px;top:215.90px;font-size:16.13px;font-weight:400;color:#606060;letter-spacing:0.0px;transform:scaleX(0.8733)">20-21.</div>
<div class="t" style="left:14.96px;top:459.90px;font-size:16.13px;font-weight:400;color:#606060;letter-spacing:0.0px;transform:scaleX(0.8440)">1.</div>
<div class="t" style="left:15.00px;top:480.10px;font-size:16.13px;font-weight:400;color:#606060;letter-spacing:0.0px;transform:scaleX(0.8445)">3.</div>
<div class="t" style="left:254.80px;top:459.90px;font-size:16.13px;font-weight:400;color:#606060;letter-spacing:0.0px;transform:scaleX(0.8613)">8.</div>
<div class="t" style="left:255.06px;top:480.30px;font-size:16.13px;font-weight:400;color:#606060;letter-spacing:0.0px;transform:scaleX(0.8434)">19.</div>
<div class="t" style="left:732.11px;top:460.20px;font-size:16.13px;font-weight:400;color:#606060;letter-spacing:0.0px;transform:scaleX(0.8886)">15.</div>
<div class="t" style="left:493.09px;top:715.50px;font-size:16.13px;font-weight:400;color:#606060;letter-spacing:0.0px;transform:scaleX(0.9125)">1.</div>
<div class="t" style="left:493.05px;top:736.20px;font-size:16.13px;font-weight:400;color:#606060;letter-spacing:0.0px;transform:scaleX(0.9507)">11.</div>
<div class="t" style="left:732.90px;top:715.30px;font-size:16.13px;font-weight:400;color:#606060;letter-spacing:0.0px;transform:scaleX(0.7936)">24.</div>
<div class="t" style="left:732.90px;top:736.00px;font-size:16.13px;font-weight:400;color:#606060;letter-spacing:0.0px;transform:scaleX(0.8552)">25-26.</div>
<div class="t" style="left:14.90px;top:88.30px;font-size:19.19px;font-weight:400;color:#5a5a5a;transform:scaleX(0.7477)">W</div>
<div class="t" style="left:34.00px;top:88.30px;font-size:19.19px;font-weight:400;color:#5a5a5a;transform:scaleX(0.8735)">2025</div>
<div class="t" style="left:75.65px;top:88.30px;font-size:19.19px;font-weight:400;color:#5a5a5a;transform:scaleX(0.9536)">roku</div>
<div class="t" style="left:117.07px;top:88.30px;font-size:19.19px;font-weight:400;color:#5a5a5a;transform:scaleX(0.8667)">w</div>
<div class="t" style="left:133.90px;top:88.30px;font-size:19.19px;font-weight:400;color:#5a5a5a;transform:scaleX(0.9031)">Polsce</div>
<div class="t" style="left:189.96px;top:88.30px;font-size:19.19px;font-weight:400;color:#5a5a5a;transform:scaleX(0.9379)">przypada</div>
<div class="t" style="left:269.06px;top:88.30px;font-size:19.19px;font-weight:400;color:#5a5a5a;transform:scaleX(0.8418)">14</div>
<div class="t" style="left:291.95px;top:88.30px;font-size:19.19px;font-weight:400;color:#5a5a5a;transform:scaleX(0.9461)">ustawowych</div>
<div class="t" style="left:395.60px;top:88.30px;font-size:19.19px;font-weight:400;color:#5a5a5a;transform:scaleX(0.9654)">dni</div>
<div class="t" style="left:426.03px;top:88.30px;font-size:19.19px;font-weight:400;color:#5a5a5a;transform:scaleX(0.9347)">wolnych</div>
<div class="t" style="left:495.60px;top:88.30px;font-size:19.19px;font-weight:400;color:#5a5a5a;transform:scaleX(0.9724)">od</div>
<div class="t" style="left:520.35px;top:88.30px;font-size:19.19px;font-weight:400;color:#5a5a5a;transform:scaleX(0.9547)">pracy,</div>
<div class="t" style="left:573.20px;top:88.30px;font-size:19.19px;font-weight:400;color:#5a5a5a;transform:scaleX(0.7477)">z</div>
<div class="t" style="left:585.20px;top:88.30px;font-size:19.19px;font-weight:400;color:#5a5a5a;transform:scaleX(0.8866)">czego</div>
<div class="t" style="left:636.10px;top:88.30px;font-size:19.19px;font-weight:400;color:#5a5a5a;transform:scaleX(0.9112)">cztery</div>
<div class="t" style="left:687.25px;top:88.30px;font-size:19.19px;font-weight:400;color:#5a5a5a;transform:scaleX(0.9491)">wypadają</div>
<div class="t" style="left:770.71px;top:88.30px;font-size:19.19px;font-weight:400;color:#5a5a5a;transform:scaleX(0.8067)">w</div>
<div class="t" style="left:786.30px;top:88.30px;font-size:19.19px;font-weight:400;color:#5a5a5a;transform:scaleX(0.9677)">sobotę</div>
<div class="t" style="left:846.94px;top:88.30px;font-size:19.19px;font-weight:400;color:#5a5a5a;transform:scaleX(0.9610)">lub</div>
<div class="t" style="left:15.70px;top:112.60px;font-size:19.19px;font-weight:400;color:#5a5a5a;transform:scaleX(0.8000)">w</div>
<div class="t" style="left:32.08px;top:112.60px;font-size:19.19px;font-weight:400;color:#5a5a5a;transform:scaleX(0.9220)">niedzielę.</div>
<div class="t" style="left:111.15px;top:112.60px;font-size:19.19px;font-weight:400;color:#5a5a5a;transform:scaleX(0.8496)">Przy</div>
<div class="t" style="left:148.75px;top:112.60px;font-size:19.19px;font-weight:400;color:#5a5a5a;transform:scaleX(0.9480)">uwzględnieniu</div>
<div class="t" style="left:270.12px;top:112.60px;font-size:19.19px;font-weight:400;color:#5a5a5a;transform:scaleX(0.9227)">wszystkich</div>
<div class="t" style="left:360.53px;top:112.60px;font-size:19.19px;font-weight:400;color:#5a5a5a;transform:scaleX(0.9309)">weekendów</div>
<div class="t" style="left:459.88px;top:112.60px;font-size:19.19px;font-weight:400;color:#5a5a5a;transform:scaleX(0.9227)">i</div>
<div class="t" style="left:468.70px;top:112.60px;font-size:19.19px;font-weight:400;color:#5a5a5a;transform:scaleX(0.9389)">świąt,</div>
<div class="t" style="left:519.10px;top:112.60px;font-size:19.19px;font-weight:400;color:#5a5a5a;transform:scaleX(0.9446)">otrzymamy</div>
<div class="t" style="left:612.81px;top:112.60px;font-size:19.19px;font-weight:400;color:#5a5a5a;transform:scaleX(0.8853)">116</div>
<div class="t" style="left:644.80px;top:112.60px;font-size:19.19px;font-weight:400;color:#5a5a5a;transform:scaleX(0.9449)">dni</div>
<div class="t" style="left:675.22px;top:112.60px;font-size:19.19px;font-weight:400;color:#5a5a5a;transform:scaleX(0.9189)">wolnych</div>
<div class="t" style="left:744.30px;top:112.60px;font-size:19.19px;font-weight:400;color:#5a5a5a;transform:scaleX(0.9966)">od</div>
<div class="t" style="left:769.56px;top:112.60px;font-size:19.19px;font-weight:400;color:#5a5a5a;transform:scaleX(0.9424)">pracy.</div>
<div class="t" style="left:14.90px;top:919.60px;font-size:15.99px;font-weight:400;color:#5a5a5a;transform:scaleX(0.9854)">Źródło:</div>
<div class="t" style="left:67.53px;top:919.60px;font-size:15.99px;font-weight:400;color:#5a5a5a;transform:scaleX(0.9690)">Ministerstwo</div>
<div class="t" style="left:158.27px;top:919.60px;font-size:15.99px;font-weight:400;color:#5a5a5a;transform:scaleX(0.9306)">Rodziny,</div>
<div class="t" style="left:218.81px;top:919.60px;font-size:15.99px;font-weight:400;color:#5a5a5a;transform:scaleX(0.8905)">Pracy</div>
<div class="t" style="left:260.26px;top:919.60px;font-size:15.99px;font-weight:400;color:#5a5a5a;transform:scaleX(0.9395)">i</div>
<div class="t" style="left:267.32px;top:919.60px;font-size:15.99px;font-weight:400;color:#5a5a5a;transform:scaleX(0.9801)">Polityki</div>
<div class="t" style="left:322.40px;top:919.60px;font-size:15.99px;font-weight:400;color:#5a5a5a;transform:scaleX(0.9495)">Społecznej,</div>
<div class="t" style="left:406.50px;top:919.60px;font-size:15.99px;font-weight:400;color:#5a5a5a;transform:scaleX(0.8788)">*oraz</div>
<div class="t" style="left:444.20px;top:919.60px;font-size:15.99px;font-weight:400;color:#5a5a5a;transform:scaleX(0.9420)">Święto</div>
<div class="t" style="left:493.10px;top:919.60px;font-size:15.99px;font-weight:400;color:#5a5a5a;transform:scaleX(0.9115)">Wojska</div>
<div class="t" style="left:544.66px;top:919.60px;font-size:15.99px;font-weight:400;color:#5a5a5a;transform:scaleX(0.9369)">Polskiego</div>
</body></html>
